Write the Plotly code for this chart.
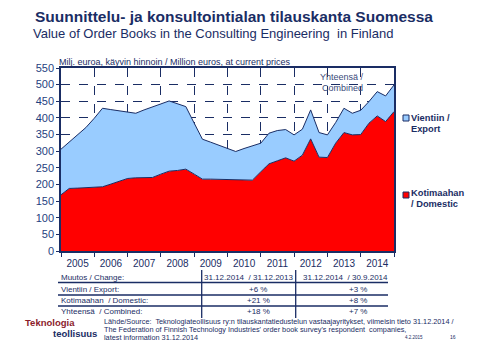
import plotly.graph_objects as go

# ---- data ----
years = list(range(2005, 2015))
quarter_dates = ["2004-12-31"] + [f"{y}-{md}" for y in years for md in ("03-31", "06-30", "09-30", "12-31")]

total_combined = [306, 328, 350, 371, 399, 429, 425, 422, 418, 414,
                  424, 432, 442, 451, 442, 434, 384, 336, 327, 318,
                  309, 299, 308, 316, 324, 354, 362, 365, 349, 366,
                  424, 356, 349, 386, 429, 414, 423, 449, 479, 466, 499]
domestic = [169, 188, 189, 191, 192, 193, 201, 210, 218, 220,
            220, 221, 231, 240, 242, 246, 231, 216, 216, 215,
            214, 214, 213, 213, 238, 262, 271, 280, 270, 288,
            337, 282, 281, 324, 356, 349, 350, 384, 406, 389, 419]

table_rows = ["Muutos / Change:", "Vientiin / Export:", "Kotimaahan  / Domestic:", "Yhteensä  / Combined:"]
col1 = ["31.12.2014  / 31.12.2013", "+6 %", "+21 %", "+18 %"]
col2 = ["31.12.2014  / 30.9.2014", "+3 %", "+8 %", "+7 %"]

NAVY = "#1a2d64"
FONT = "Liberation Sans, Arial, sans-serif"

# plot area in pixels
L, R, T, B = 61, 394, 68, 251
W, H = 480, 360


def px(x):
    return (x - L) / (R - L)


def py(y):
    return (B - y) / (B - T)


fig = go.Figure()
fig.add_trace(go.Scatter(x=quarter_dates, y=domestic, mode="lines", fill="tozeroy",
                         fillcolor="#ff0000", line=dict(color=NAVY, width=1),
                         name="Kotimaahan / Domestic", hoverinfo="skip"))
fig.add_trace(go.Scatter(x=quarter_dates, y=total_combined, mode="lines", fill="tonexty",
                         fillcolor="#99ccff", line=dict(color=NAVY, width=1),
                         name="Yhteensä / Combined", hoverinfo="skip"))

fig.update_layout(
    width=W, height=H,
    margin=dict(l=L, r=W - R, t=T, b=H - B),
    paper_bgcolor="white", plot_bgcolor="white",
    showlegend=False,
    font=dict(family=FONT, color=NAVY),
)

fig.update_xaxes(
    type="date",
    range=["2004-12-31", "2014-12-31"],
    tickmode="array",
    tickvals=[f"{y}-07-01" for y in years],
    ticktext=[str(y) for y in years],
    tickfont=dict(size=10, color=NAVY, family=FONT),
    ticks="", showgrid=False, zeroline=False,
    showline=True, linecolor=NAVY, linewidth=1.5, mirror=True,
    ticklabelstandoff=2,
    minor=dict(tickmode="array", tickvals=[f"{y}-12-31" for y in range(2004, 2015)],
               ticks="outside", ticklen=4, tickcolor=NAVY, tickwidth=1,
               showgrid=True, gridcolor=NAVY, gridwidth=1, griddash="dash"),
)
fig.update_yaxes(
    range=[0, 550], dtick=50, tick0=0,
    tickfont=dict(size=11, color="#1f3f80", family=FONT),
    ticks="outside", ticklen=3, tickcolor=NAVY,
    showgrid=True, gridcolor=NAVY, gridwidth=1, griddash="dash",
    zeroline=False, showline=True, linecolor=NAVY, linewidth=1.5, mirror=True,
)

ann = []


def text(x, y, s, size, color=NAVY, bold=False, xanchor="left"):
    if bold:
        s = f"<b>{s}</b>"
    ann.append(dict(x=px(x), y=py(y), xref="paper", yref="paper", text=s, showarrow=False,
                    xanchor=xanchor, yanchor="middle", borderpad=0, borderwidth=0,
                    font=dict(size=size, color=color, family=FONT)))


text(35, 17, "Suunnittelu- ja konsultointialan tilauskanta Suomessa", 15.5, bold=True)
text(33, 33, "Value of Order Books in the Consulting Engineering  in Finland", 13)
text(59, 62, "Milj. euroa, käyvin hinnoin / Million euros, at current prices", 9)
text(342, 77, "Yhteensä /", 9, color="#3a4a7a", xanchor="center")
text(342, 88, "Combined", 9, color="#3a4a7a", xanchor="center")

# legend
text(411, 118, "Vientiin /", 9.3, bold=True)
text(411, 129, "Export", 9.3, bold=True)
text(411, 193, "Kotimaahan", 9.3, bold=True)
text(411, 204, "/ Domestic", 9.3, bold=True)

shapes = []


def rect(x0, y0, x1, y1, fill, line=NAVY, lw=1):
    shapes.append(dict(type="rect", xref="paper", yref="paper", x0=px(x0), x1=px(x1), y0=py(y1), y1=py(y0),
                       fillcolor=fill, line=dict(color=line, width=lw)))


def line(x0, y0, x1, y1, color=NAVY, lw=1.2):
    shapes.append(dict(type="line", xref="paper", yref="paper", x0=px(x0), x1=px(x1), y0=py(y0), y1=py(y1),
                       line=dict(color=color, width=lw)))


rect(403, 115, 409, 121, "#99ccff")
rect(403, 192, 409, 198, "#ff0000")

# table
row_y = [277.5, 289, 300, 311]
for i, r in enumerate(table_rows):
    text(61, row_y[i], r, 8)
    text(249 if i == 0 else 258, row_y[i], col1[i], 8, xanchor="center")
    text(345 if i == 0 else 358, row_y[i], col2[i], 8, xanchor="center")
for yy in (282.5, 295, 306):
    line(58, yy, 388, yy, lw=1.3)
line(201.7, 270, 201.7, 318, lw=1.3)
line(295.7, 270, 295.7, 318, lw=1.3)

# footer
text(25, 322, "Teknologia", 9.5, color="#8c1c2c", bold=True)
text(53, 333, "teollisuus", 9.5, color=NAVY, bold=True)
text(104, 321, "Lähde/Source:  Teknologiateollisuus ry:n tilauskantatiedustelun vastaajayritykset, viimeisin tieto 31.12.2014 /", 7.3)
text(104, 329, "The Federation of Finnish Technology Industries' order book survey's respondent  companies,", 7.3)
text(104, 337, "latest information 31.12.2014", 7.3)
text(405, 337, "4.2.2015", 4.5)
text(450, 337, "16", 5)

fig.update_layout(annotations=ann, shapes=shapes)
fig.write_html("out.html", config={"displayModeBar": False},
               post_script="document.body.style.margin='0';")
